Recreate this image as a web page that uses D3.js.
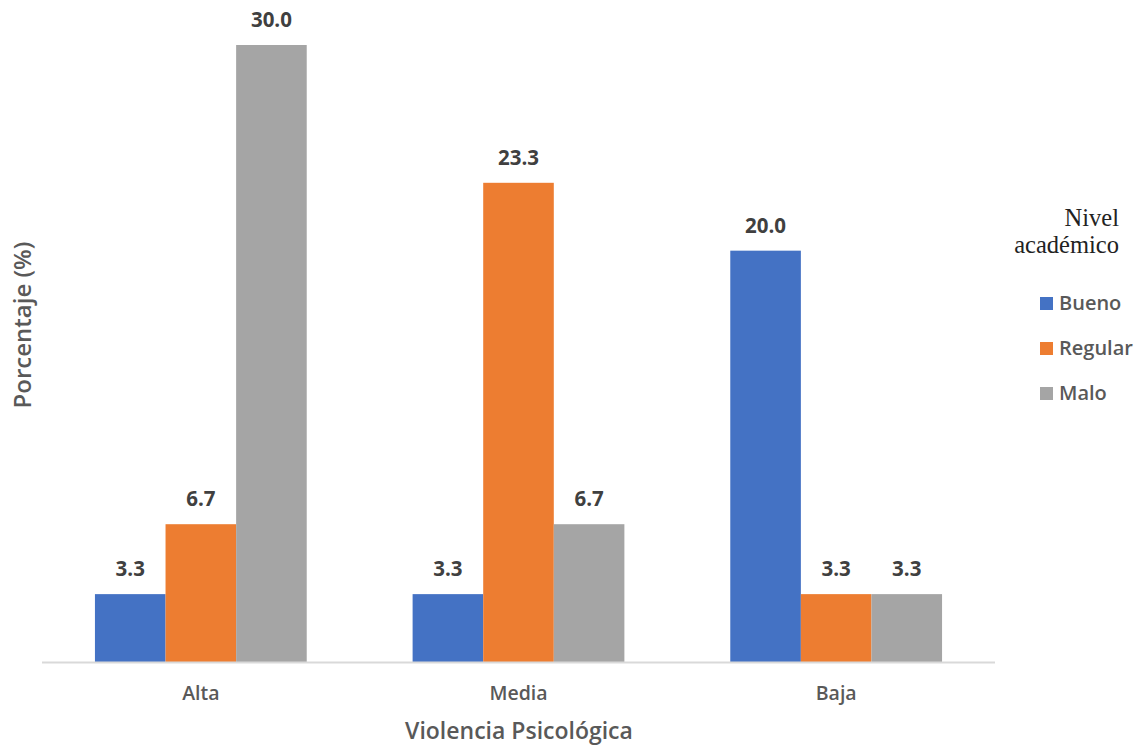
<!DOCTYPE html>
<html><head><meta charset="utf-8">
<script src="https://cdn.jsdelivr.net/npm/d3@7"></script>
<style>body{margin:0;background:#fff}</style>
</head><body><svg id="c" width="1146" height="745"></svg>
<script>
const categories = ["Alta", "Media", "Baja"];
const seriesNames = ["Bueno", "Regular", "Malo"];
const bueno = [3.3, 3.3, 20.0];
const regular = [6.7, 23.3, 3.3];
const malo = [30.0, 6.7, 3.3];
const colors = ["#4472C4", "#ED7D31", "#A5A5A5"];
const seriesValues = [bueno, regular, malo];

const svg = d3.select("#c");
const plotLeft = 42, plotRight = 995, plotBase = 662, plotTop = 45;
const font = "'Open Sans', 'Noto Sans', sans-serif";

const x0 = d3.scaleBand().domain(categories).range([plotLeft, plotRight]).paddingInner(1/3).paddingOuter(1/6);
const x1 = d3.scaleBand().domain(seriesNames).range([0, x0.bandwidth()]);
const y = d3.scaleLinear().domain([0, 30]).range([plotBase, plotTop]);

const rows = categories.map((c, i) => ({cat: c, vals: seriesNames.map((s, j) => ({s, j, v: seriesValues[j][i]}))}));

const g = svg.selectAll("g.grp").data(rows).join("g").attr("class","grp")
  .attr("transform", d => `translate(${x0(d.cat)},0)`);
g.selectAll("rect").data(d => d.vals).join("rect")
  .attr("x", d => x1(d.s)).attr("width", x1.bandwidth())
  .attr("y", d => y(d.v)).attr("height", d => plotBase - y(d.v))
  .attr("fill", d => colors[d.j]);
g.selectAll("text.lbl").data(d => d.vals).join("text").attr("class","lbl")
  .attr("x", d => x1(d.s) + x1.bandwidth()/2).attr("y", d => y(d.v) - 18)
  .attr("text-anchor","middle").attr("font-family", font).attr("font-weight","bold")
  .attr("font-size", 20.5).attr("fill", "#404040").text(d => d3.format(".1f")(d.v));

// axis line
svg.append("line").attr("x1", plotLeft).attr("x2", plotRight).attr("y1", plotBase+0.5).attr("y2", plotBase+0.5)
  .attr("stroke", "#d9d9d9").attr("stroke-width", 2);

const xAxis = svg.append("g").attr("transform", `translate(0,${plotBase})`)
  .call(d3.axisBottom(x0).tickSize(0).tickPadding(24));
xAxis.select(".domain").remove();
xAxis.selectAll("text").attr("font-family", font).attr("font-size", 19.5).attr("font-weight", 600).attr("fill", "#595959");

svg.append("text").attr("x", 519).attr("y", 739).attr("text-anchor","middle")
  .attr("font-family", font).attr("font-size", 23).attr("font-weight", 600).attr("fill", "#595959")
  .text("Violencia Psicológica");
svg.append("text").attr("transform", "translate(31,325) rotate(-90)").attr("text-anchor","middle")
  .attr("font-family", font).attr("font-size", 24).attr("font-weight", 600).attr("fill", "#595959")
  .text("Porcentaje (%)");

// legend
svg.append("text").attr("x", 1119).attr("y", 226).attr("text-anchor","end")
  .attr("font-family", "'Liberation Serif', serif").attr("font-size", 24.5).attr("fill", "#222").text("Nivel");
svg.append("text").attr("x", 1119).attr("y", 253).attr("text-anchor","end")
  .attr("font-family", "'Liberation Serif', serif").attr("font-size", 24.5).attr("fill", "#222").text("académico");
const lg = svg.selectAll("g.leg").data(seriesNames).join("g").attr("class","leg")
  .attr("transform", (d,i) => `translate(1040,${303 + i*45})`);
lg.append("rect").attr("x", 0).attr("y", -6).attr("width", 13).attr("height", 13).attr("fill", (d,i) => colors[i]);
lg.append("text").attr("x", 19).attr("y", 0).attr("dy", "0.35em").attr("font-family", font)
  .attr("font-size", 20).attr("font-weight", 600).attr("fill", "#595959").text(d => d);
</script></body></html>
